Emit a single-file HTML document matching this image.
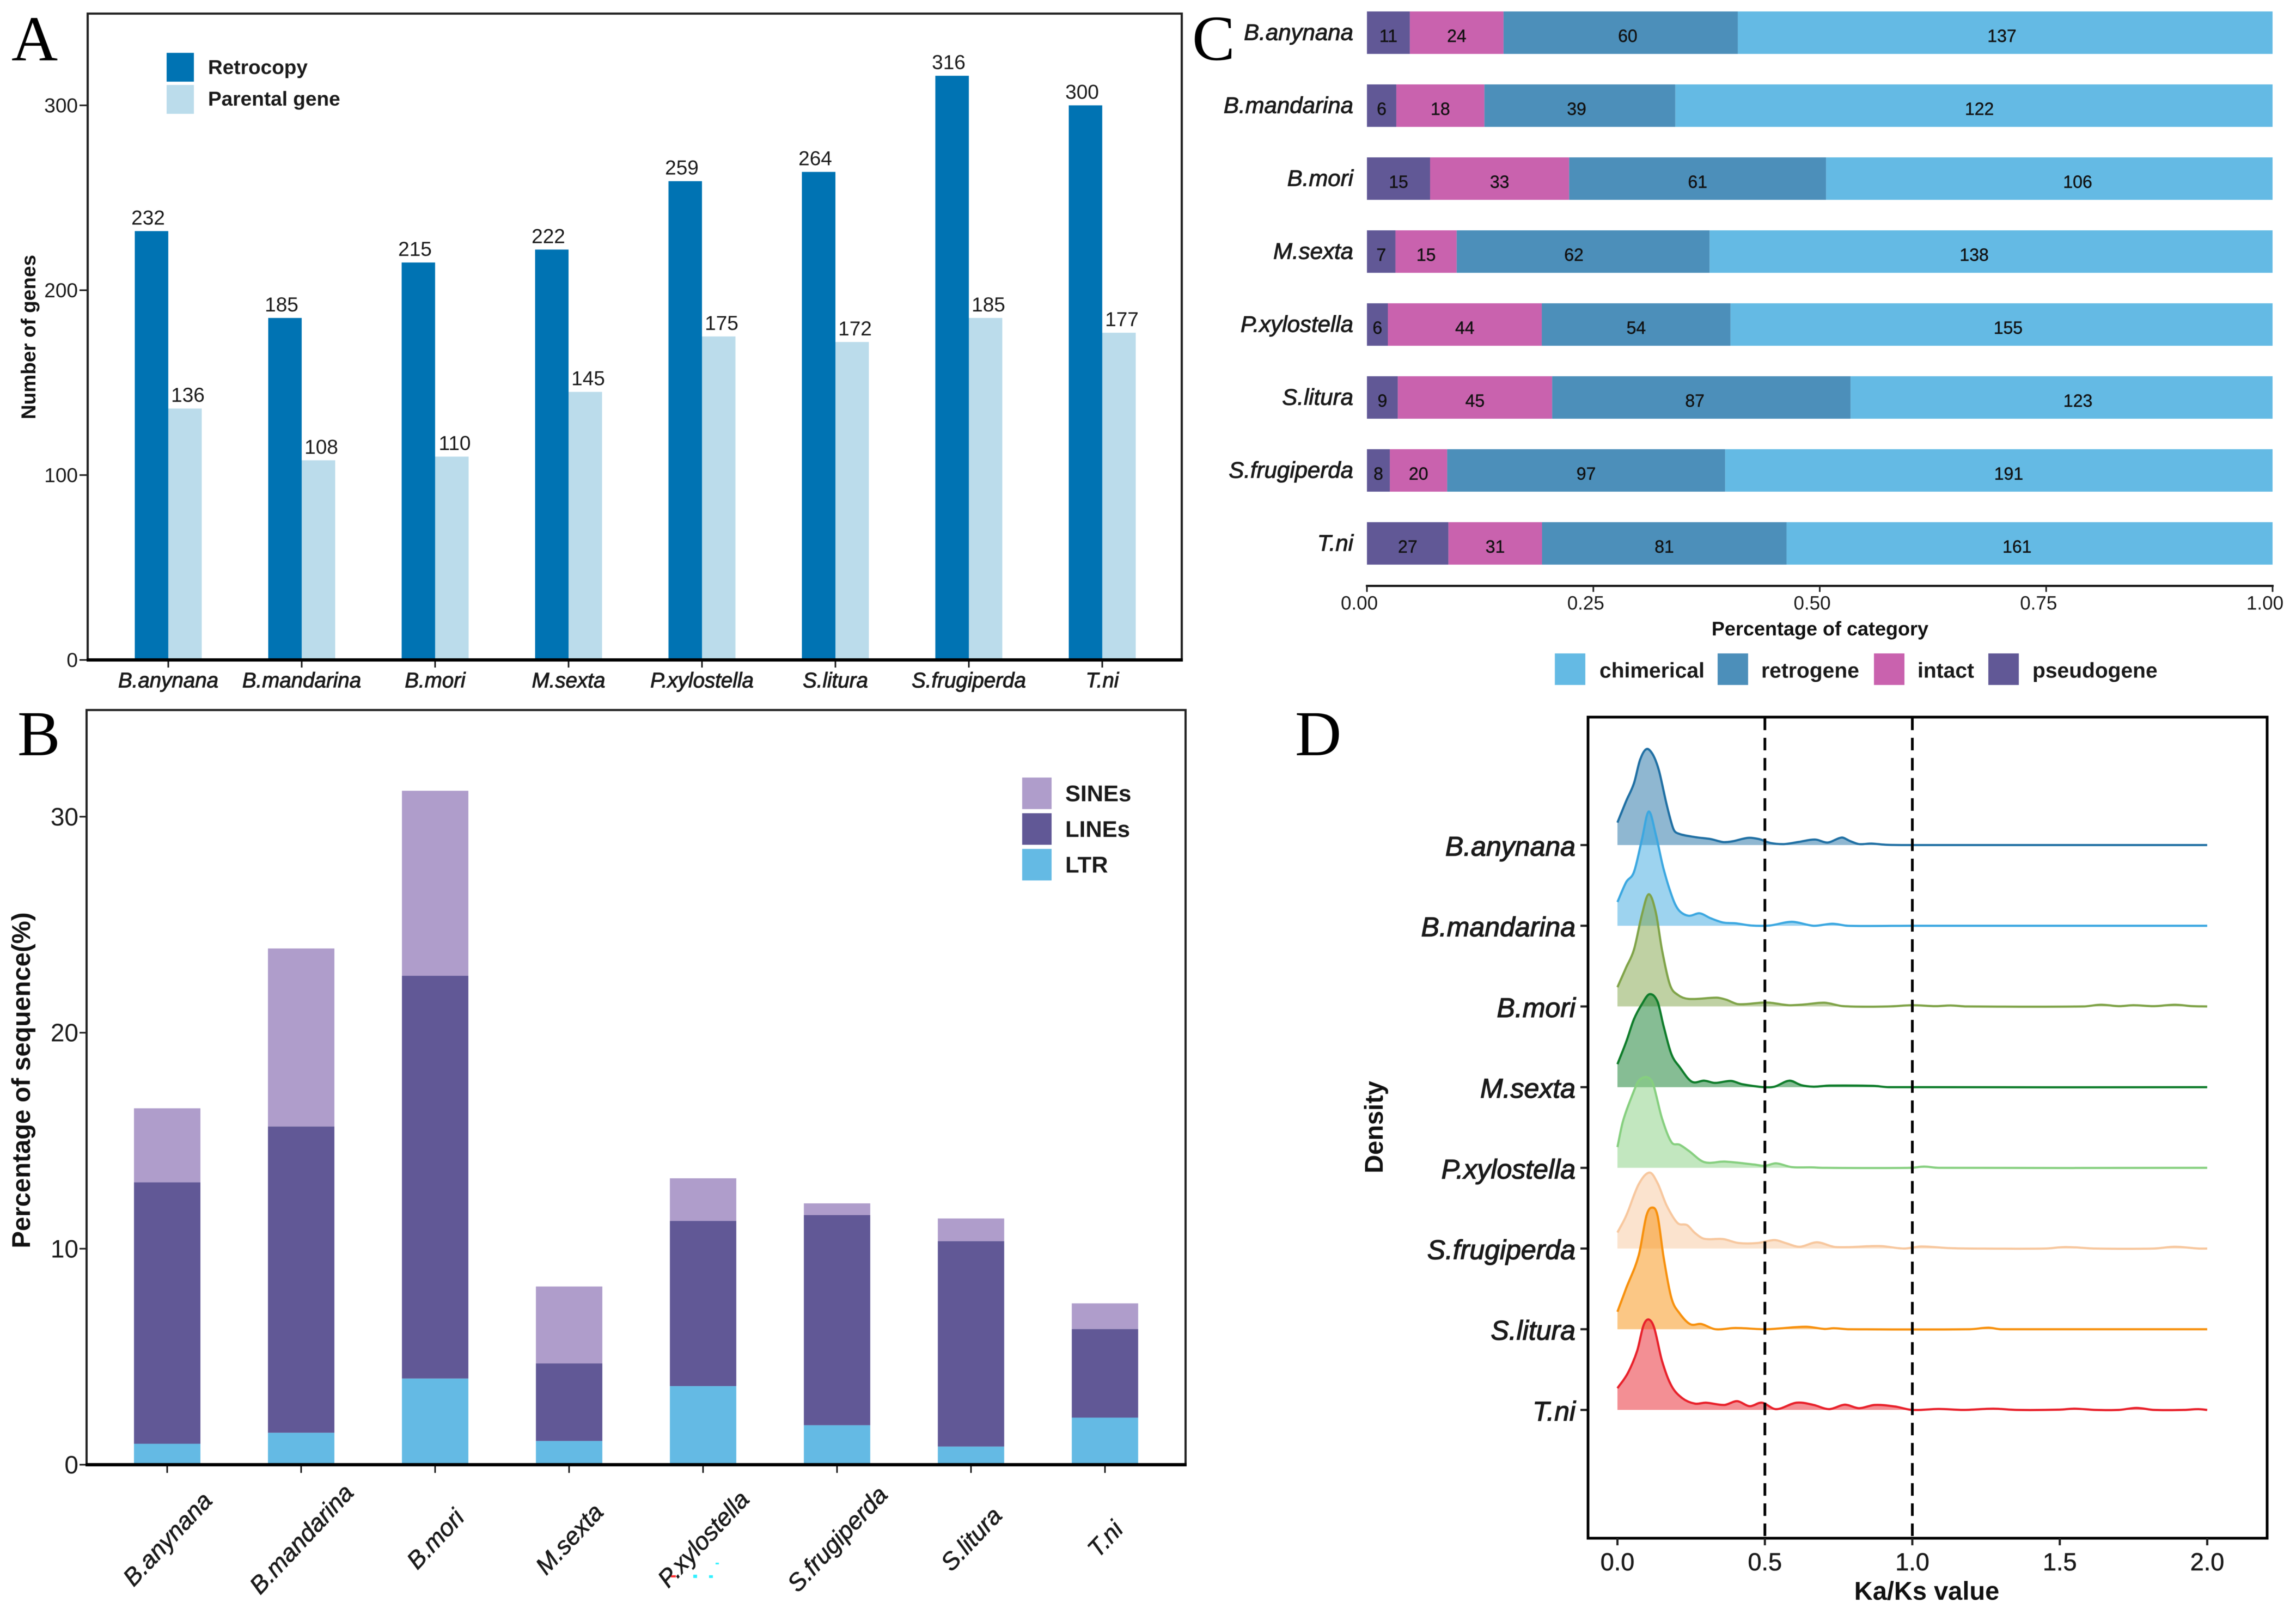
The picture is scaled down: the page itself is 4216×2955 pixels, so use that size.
<!DOCTYPE html>
<html lang="en">
<head>
<meta charset="utf-8">
<title>Retrocopy comparison across eight Lepidoptera species</title>
<style>
html,body{margin:0;padding:0;background:#fff;}
svg{display:block;font-family:"Liberation Sans",sans-serif;filter:blur(0.8px);}
.letter{font-family:"Liberation Serif",serif;font-size:118px;fill:#000;}
.title{font-weight:bold;fill:#111;}
</style>
</head>
<body>
<svg id="figure" xmlns="http://www.w3.org/2000/svg" width="4216" height="2955" viewBox="0 0 4216 2955">
  <rect x="0" y="0" width="4216" height="2955" fill="#ffffff"/>

  <g id="panelA">
    <rect x="161" y="25" width="2009" height="1187" fill="none" stroke="#222" stroke-width="4"/>
    <text class="letter" x="21" y="111">A</text>
    <text class="title" transform="translate(65,619) rotate(-90)" text-anchor="middle" font-size="37">Number of genes</text>
  </g>

  <g id="panelB">
    <rect x="159" y="1304" width="2018" height="1386" fill="none" stroke="#222" stroke-width="4"/>
    <text class="letter" x="32" y="1387">B</text>
    <text class="title" transform="translate(55,1984) rotate(-90)" text-anchor="middle" font-size="47" textLength="617" lengthAdjust="spacingAndGlyphs">Percentage of sequence(%)</text>
    <g>
      <rect x="1232" y="2893" width="9" height="4" fill="#ff3030"/>
      <rect x="1273" y="2892" width="7" height="6" fill="#30f0ff"/>
      <rect x="1302" y="2893" width="7" height="5" fill="#30f0ff"/>
      <rect x="1314" y="2870" width="6" height="3" fill="#30f0ff"/>
    </g>
  </g>

  <g id="panelC">
    <text class="title" x="3342" y="1167" text-anchor="middle" font-size="36">Percentage of category</text>
  </g>

  <g id="panelD">
    <text class="letter" x="2378" y="1387">D</text>
    <text class="title" transform="translate(2539,2070) rotate(-90)" text-anchor="middle" font-size="47">Density</text>
    <text class="title" x="3538" y="2938" text-anchor="middle" font-size="47">Ka/Ks value</text>
  </g>
  <text class="letter" x="2189" y="110">C</text>
</svg>

<script>
// ---------- Panel A data ----------
const speciesA = ['B.anynana','B.mandarina','B.mori','M.sexta','P.xylostella','S.litura','S.frugiperda','T.ni'];
const retrocopyCounts = [232,185,215,222,259,264,316,300];
const parentalCounts = [136,108,110,145,175,172,185,177];
const ticksA = [0,100,200,300];
const legendA = ['Retrocopy','Parental gene'];

// ---------- Panel B data ----------
const speciesB = ['B.anynana','B.mandarina','B.mori','M.sexta','P.xylostella','S.frugiperda','S.litura','T.ni'];
const ltrShare = [0.97,1.48,3.99,1.10,3.64,1.83,0.84,2.18];
const linesShare = [12.10,14.18,18.65,3.59,7.65,9.73,9.51,4.10];
const sinesShare = [3.43,8.24,8.56,3.56,1.97,0.54,1.05,1.19];
const ticksB = [0,10,20,30];
const legendB = ['SINEs','LINEs','LTR'];

// ---------- Panel C data ----------
const speciesC = ['B.anynana','B.mandarina','B.mori','M.sexta','P.xylostella','S.litura','S.frugiperda','T.ni'];
const pseudogeneCounts = [11,6,15,7,6,9,8,27];
const intactCounts = [24,18,33,15,44,45,20,31];
const retrogeneCounts = [60,39,61,62,54,87,97,81];
const chimericalCounts = [137,122,106,138,155,123,191,161];
const ticksC = ['0.00','0.25','0.50','0.75','1.00'];
const legendC = ['chimerical','retrogene','intact','pseudogene'];

// ---------- Panel D data: [Ka/Ks, density] ----------
const speciesD = ['B.anynana','B.mandarina','B.mori','M.sexta','P.xylostella','S.frugiperda','S.litura','T.ni'];
const ticksD = ['0.0','0.5','1.0','1.5','2.0'];
const cutoffsD = [0.5,1.0];
const densityAnynana = [[0,.90],[.03,1.77],[.056,2.47],[.077,3.42],[.0985,3.84],[.12,3.62],[.141,2.97],[.167,1.62],[.189,.67],[.204,.47],[.263,.32],[.316,.24],[.358,.12],[.39,.15],[.443,.29],[.48,.24],[.517,.09],[.565,.04],[.612,.12],[.67,.22],[.713,.10],[.76,.30],[.787,.17],[.819,.04],[.861,.06],[.914,.01],[1,0],[2,0]];
const densityMandarina = [[0,.95],[.03,1.75],[.056,2.15],[.083,3.45],[.106,4.57],[.13,3.65],[.157,2.25],[.189,1.05],[.21,.60],[.242,.40],[.279,.50],[.316,.30],[.358,.13],[.40,.10],[.453,.01],[.517,.01],[.591,.16],[.665,0],[.729,.08],[.782,0],[1,0],[2,0]];
const densityMori = [[0,.77],[.03,1.57],[.056,2.27],[.083,3.67],[.106,4.49],[.13,3.77],[.151,2.27],[.178,.87],[.204,.47],[.242,.30],[.337,.35],[.369,.27],[.411,.09],[.506,.16],[.58,.05],[.633,.08],[.702,.15],[.766,.01],[.92,0],[1.0,.05],[1.078,.01],[1.13,.04],[1.184,0],[1.58,0],[1.64,.07],[1.70,.01],[1.75,.05],[1.82,.01],[1.89,.07],[1.95,.01],[2,0]];
const densitySexta = [[0,.92],[.03,1.82],[.056,2.72],[.083,3.32],[.109,3.72],[.136,3.42],[.157,2.42],[.183,1.32],[.21,.82],[.252,.22],[.295,.26],[.331,.17],[.385,.25],[.422,.12],[.496,0],[.533,.02],[.583,.26],[.623,.08],[.665,.02],[.718,.06],[.867,.05],[.92,0],[2,0]];
const densityXylostella = [[0,.83],[.019,1.88],[.056,3.08],[.07,3.45],[.085,3.6],[.10,3.63],[.115,3.5],[.125,3.2],[.151,1.98],[.183,1.03],[.21,.93],[.242,.68],[.294,.23],[.363,.25],[.464,.13],[.5,.08],[.538,.18],[.59,.03],[.655,.02],[.708,0],[.994,0],[1.04,.05],[1.09,0],[2,0]];
const densityFrugiperda = [[0,.64],[.03,1.32],[.072,2.57],[.109,3.04],[.136,2.62],[.167,1.72],[.204,1.02],[.236,.94],[.263,.62],[.294,.39],[.358,.38],[.411,.22],[.475,.22],[.533,.34],[.57,.22],[.618,.07],[.676,.25],[.734,.07],[.792,.06],[.888,.10],[.972,0],[1.03,.08],[1.12,.02],[1.195,0],[1.45,0],[1.52,.06],[1.62,0],[1.82,0],[1.89,.07],[1.97,0],[2,0]];
const densityLitura = [[0,.70],[.03,1.65],[.072,2.95],[.0985,4.55],[.118,4.87],[.136,4.55],[.157,2.85],[.183,1.25],[.21,.65],[.247,.20],[.284,.21],[.332,0],[.40,.05],[.506,0],[.639,.10],[.702,.01],[.734,.04],[.782,0],[1.195,0],[1.258,.06],[1.3,0],[2,0]];
const densityNi = [[0,.87],[.035,1.47],[.067,2.37],[.088,3.37],[.106,3.62],[.125,3.27],[.151,1.97],[.183,.97],[.22,.47],[.263,.25],[.3,.29],[.363,.20],[.406,.35],[.448,.15],[.49,.29],[.538,.03],[.607,.29],[.665,.20],[.718,.03],[.771,.21],[.819,.07],[.872,.20],[.94,.14],[1.0,0],[1.09,.04],[1.174,0],[1.274,.05],[1.354,0],[1.5,.01],[1.55,.05],[1.62,0],[1.7,0],[1.76,.08],[1.82,0],[1.92,0],[1.97,.03],[2,0]];

// ---------- Styling ----------
const NS = 'http://www.w3.org/2000/svg';
const COL_RETRO = '#0073b3', COL_PARENT = '#bbdcEB';
const COL_LTR = '#64bae4', COL_LINE = '#615896', COL_SINE = '#af9dcb';
const COL_CHIM = '#64bae4', COL_RETROG = '#4c8fba', COL_INTACT = '#c962ae', COL_PSEUDO = '#615896';
const TICK = '#1a1a1a';
// Hand-placed label offsets seen in panel C (layout only, keyed by species).
const retrogeneLabelNudge = {'B.anynana':13,'B.mandarina':-6,'M.sexta':-17,'S.litura':-12};
const chimericalLabelNudge = {'B.anynana':-6,'B.mandarina':10,'B.mori':52,'M.sexta':-31,'P.xylostella':12,'S.litura':30,'S.frugiperda':18,'T.ni':-23};

function make(tag, attrs, parent){
  const el = document.createElementNS(NS, tag);
  for (const k in attrs) el.setAttribute(k, attrs[k]);
  parent.appendChild(el);
  return el;
}
function label(parent, str, x, y, size, anchor, extra){
  const el = make('text', Object.assign({x:x, y:y + size*0.35, 'font-size':size, 'text-anchor':anchor, fill:TICK}, extra||{}), parent);
  el.textContent = str;
  return el;
}
const ITALIC = {'font-style':'italic', stroke:'#1a1a1a', 'stroke-width':1};
const ITALIC_D = {'font-style':'italic', stroke:'#1a1a1a', 'stroke-width':1.3};
const BOLD = {'font-weight':'bold'};

// ---------- Panel A ----------
(function(){
  const g = document.getElementById('panelA');
  const xA = i => 309 + 245*i;
  const yA = v => 1212 - 3.395*v;
  const w = 61.5;
  speciesA.forEach((name,i)=>{
    const r1 = make('rect',{x:xA(i)-w,y:yA(retrocopyCounts[i]),width:w,height:yA(0)-yA(retrocopyCounts[i]),fill:COL_RETRO},g);
    
    
    const r2 = make('rect',{x:xA(i),y:yA(parentalCounts[i]),width:w,height:yA(0)-yA(parentalCounts[i]),fill:COL_PARENT},g);
    
    
    const v1 = label(g,String(retrocopyCounts[i]),xA(i)-37,yA(retrocopyCounts[i])-25,37,'middle');
    
    
    const v2 = label(g,String(parentalCounts[i]),xA(i)+36,yA(parentalCounts[i])-25,37,'middle');
    
    
    const t = make('line',{x1:xA(i),x2:xA(i),y1:1212,y2:1226,stroke:'#222','stroke-width':3},g);
    
    
    const l = label(g,name,xA(i),1249,38.5,'middle',ITALIC);
    
    
  });
  ticksA.forEach(v=>{
    const t = make('line',{x1:146,x2:161,y1:yA(v),y2:yA(v),stroke:'#222','stroke-width':3},g);
    
    
    const l = label(g,String(v),143,yA(v),37,'end');
    
    
  });
  const base = make('line',{x1:159,x2:2172,y1:1212,y2:1212,stroke:'#000','stroke-width':6},g);
  
  
  const cols = [COL_RETRO,COL_PARENT];
  legendA.forEach((name,i)=>{
    const s = make('rect',{x:306,y:97+59*i,width:50,height:53,fill:cols[i]},g);
    
    
    const l = label(g,name,382,123+58*i,37,'start',BOLD);
    
    
  });
})();

// ---------- Panel B ----------
(function(){
  const g = document.getElementById('panelB');
  const xB = i => 307 + 246*i;
  const yB = v => 2690 - 39.67*v;
  const w = 122;
  speciesB.forEach((name,i)=>{
    const a = ltrShare[i], b = a + linesShare[i], c = b + sinesShare[i];
    const r1 = make('rect',{x:xB(i)-w/2,y:yB(a),width:w,height:yB(0)-yB(a),fill:COL_LTR},g);
    
    
    const r2 = make('rect',{x:xB(i)-w/2,y:yB(b),width:w,height:yB(a)-yB(b),fill:COL_LINE},g);
    
    
    const r3 = make('rect',{x:xB(i)-w/2,y:yB(c),width:w,height:yB(b)-yB(c),fill:COL_SINE},g);
    
    
    const t = make('line',{x1:xB(i),x2:xB(i),y1:2690,y2:2705,stroke:'#222','stroke-width':3},g);
    
    
    const l = make('text',{transform:'translate('+xB(i)+',2826) rotate(-47)','text-anchor':'middle','font-size':45,y:16,fill:TICK,'font-style':'italic',stroke:'#1a1a1a','stroke-width':0.7},g);
    l.textContent = name;
    
    
  });
  ticksB.forEach(v=>{
    const t = make('line',{x1:146,x2:159,y1:yB(v),y2:yB(v),stroke:'#222','stroke-width':3},g);
    
    
    const l = label(g,String(v),144,yB(v),46,'end');
    
    
  });
  const base = make('line',{x1:157,x2:2179,y1:2690,y2:2690,stroke:'#000','stroke-width':6},g);
  
  
  const cols = [COL_SINE,COL_LINE,COL_LTR];
  legendB.forEach((name,i)=>{
    const s = make('rect',{x:1877,y:1428+65.5*i,width:54,height:58,fill:cols[i]},g);
    
    
    const l = label(g,name,1956,1457+65.5*i,42,'start',BOLD);
    
    
  });
})();

// ---------- Panel C ----------
(function(){
  const g = document.getElementById('panelC');
  const xC = f => 2510 + 1663*f;
  const yC = i => 60 + 134*i;
  const h = 78;
  const keys = ['pseudogene','intact','retrogene','chimerical'];
  const cols = [COL_PSEUDO,COL_INTACT,COL_RETROG,COL_CHIM];
  speciesC.forEach((name,i)=>{
    const vals = [pseudogeneCounts[i],intactCounts[i],retrogeneCounts[i],chimericalCounts[i]];
    const total = vals.reduce((a,b)=>a+b,0);
    let cum = 0;
    vals.forEach((v,j)=>{
      const x0 = xC(cum/total), x1 = xC((cum+v)/total);
      const r = make('rect',{x:x0,y:yC(i)-h/2,width:x1-x0,height:h,fill:cols[j]},g);
      
      
      const nudge = (j===2 ? (retrogeneLabelNudge[name]||0) : j===3 ? (chimericalLabelNudge[name]||0) : 0);
      const l = label(g,String(v),(x0+x1)/2+nudge,yC(i)+6,32,'middle',{fill:'#111',stroke:'#111','stroke-width':0.4});
      
      
      cum += v;
    });
    const c = label(g,name,2485,yC(i)-1,42,'end',ITALIC);
    
    
  });
  const axis = make('line',{x1:2508,x2:4175,y1:1076,y2:1076,stroke:'#111','stroke-width':4},g);
  
  
  ticksC.forEach(s=>{
    const f = parseFloat(s);
    const t = make('line',{x1:xC(f),x2:xC(f),y1:1076,y2:1087,stroke:'#222','stroke-width':3},g);
    
    
    const l = label(g,s,xC(f)-14,1107,35,'middle');
    
    
  });
  const sw = [2855,3154,3441,3651], tx = [2937,3234,3521,3732];
  const legCols = [COL_CHIM,COL_RETROG,COL_INTACT,COL_PSEUDO];
  legendC.forEach((name,i)=>{
    const s = make('rect',{x:sw[i],y:1200,width:56,height:58,fill:legCols[i]},g);
    
    
    const l = label(g,name,tx[i],1231,39,'start',BOLD);
    
    
  });
})();

// ---------- Panel D ----------
(function(){
  const g = document.getElementById('panelD');
  const xD = v => 2970 + 541.5*v;
  const baseD = i => 1552 + 148.2*i;
  const hD = d => d*45.9;
  const series = [densityAnynana,densityMandarina,densityMori,densitySexta,densityXylostella,densityFrugiperda,densityLitura,densityNi];
  const colors = ['#1f6fa3','#3ba7e0','#7fa348','#0e7c2a','#86cf7f','#f7c79e','#f7900c','#e8202a'];

  function curve(pts){
    const n = pts.length, m = [];
    for (let i=0;i<n;i++){
      const a = pts[Math.max(0,i-1)], b = pts[Math.min(n-1,i+1)];
      m[i] = (b[1]-a[1])/(b[0]-a[0]);
    }
    let d = 'M'+pts[0][0].toFixed(1)+' '+pts[0][1].toFixed(1);
    for (let i=0;i<n-1;i++){
      const dx = pts[i+1][0]-pts[i][0];
      d += 'C'+(pts[i][0]+dx/3).toFixed(1)+' '+(pts[i][1]+m[i]*dx/3).toFixed(1)+' '+
           (pts[i+1][0]-dx/3).toFixed(1)+' '+(pts[i+1][1]-m[i+1]*dx/3).toFixed(1)+' '+
           pts[i+1][0].toFixed(1)+' '+pts[i+1][1].toFixed(1);
    }
    return d;
  }

  series.forEach((s,i)=>{
    const b = baseD(i);
    const pts = s.map(p=>[xD(p[0]), b - hD(p[1])]);
    const line = curve(pts);
    const area = make('path',{d:line+'L'+xD(s[s.length-1][0])+' '+b+'L'+xD(s[0][0])+' '+b+'Z',fill:colors[i],'fill-opacity':0.5,stroke:'none'},g);
    
    
    const path = make('path',{d:line,fill:'none',stroke:colors[i],'stroke-width':4,'stroke-linejoin':'round'},g);
    
    
    const t = make('line',{x1:2902,x2:2916,y1:b,y2:b,stroke:'#222','stroke-width':4},g);
    
    
    const l = label(g,speciesD[i],2893,b+2,50,'end',ITALIC_D);
    
    
  });
  cutoffsD.forEach(v=>{
    const c = make('line',{x1:xD(v),x2:xD(v),y1:1318,y2:2825,stroke:'#000','stroke-width':5,'stroke-dasharray':'23 14'},g);
    
    
  });
  const frame = make('rect',{x:2916,y:1317,width:1247,height:1508,fill:'none',stroke:'#000','stroke-width':5},g);
  
  
  ticksD.forEach(s=>{
    const v = parseFloat(s);
    const t = make('line',{x1:xD(v),x2:xD(v),y1:2825,y2:2838,stroke:'#222','stroke-width':4},g);
    
    
    const l = label(g,s,xD(v),2868,45,'middle',{stroke:'#1a1a1a','stroke-width':0.6});
    
    
  });
})();
</script>
</body>
</html>
